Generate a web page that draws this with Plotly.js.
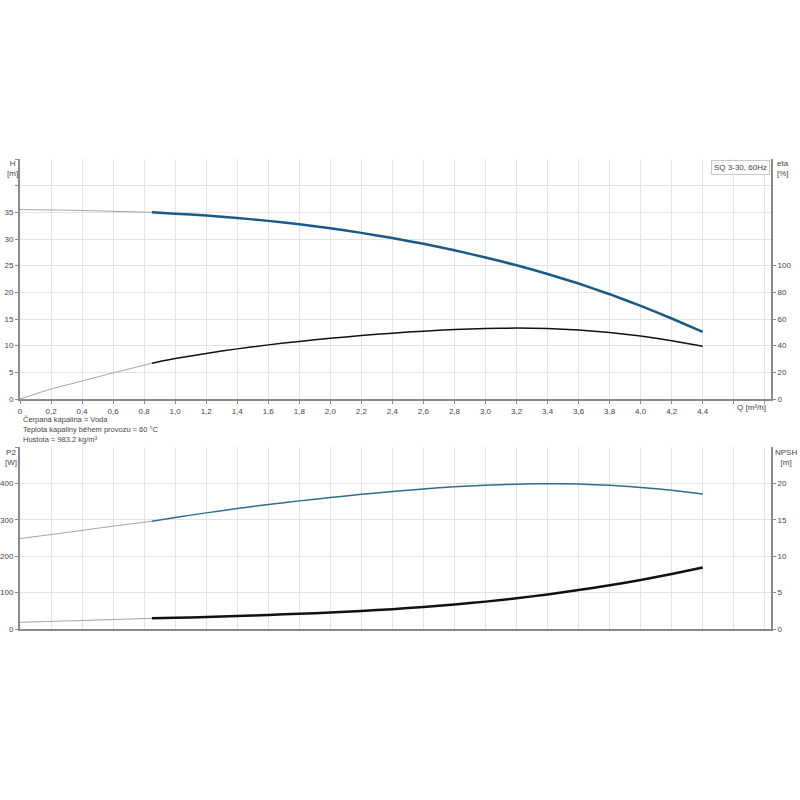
<!DOCTYPE html>
<html>
<head>
<meta charset="utf-8">
<script src="https://cdn.plot.ly/plotly-3.0.1.min.js"></script>
<style>html,body{margin:0;padding:0;background:#fff;}#chart{width:800px;height:800px;}</style>
</head>
<body>
<div id="chart"></div>
<script>
// Flow rate Q [m3/h]
const qLow = [0, 0.2, 0.4, 0.6, 0.85];
const qMain = [0.85, 1.0, 1.2, 1.4, 1.6, 1.8, 2.0, 2.2, 2.4, 2.6, 2.8, 3.0, 3.2, 3.4, 3.6, 3.8, 4.0, 4.2, 4.4];

// Head H [m]
const headLow = [35.5, 35.45, 35.35, 35.2, 35.0];
const headMain = [35.0, 34.75, 34.4, 33.95, 33.4, 32.75, 32.0, 31.15, 30.18, 29.09, 27.88, 26.54, 25.07, 23.45, 21.65, 19.65, 17.45, 15.1, 12.6];

// Efficiency eta [%]
const etaLow = [0, 7.5, 13.5, 19.6, 26.8];
const etaMain = [26.8, 30.3, 34.2, 37.6, 40.6, 43.2, 45.5, 47.6, 49.4, 50.9, 52.1, 52.9, 53.2, 52.9, 51.8, 49.9, 47.2, 43.7, 39.5];

// Power P2 [W]
const p2Low = [248.5, 259.5, 271, 282.5, 296];
const p2Main = [296, 306.5, 319, 331, 342, 352, 361.3, 370, 377.8, 384.8, 390.6, 395, 398, 399.2, 398.2, 394.8, 389, 381, 371];

// NPSH [m]
const npshLow = [0.92, 1.05, 1.17, 1.3, 1.46];
const npshMain = [1.46, 1.54, 1.65, 1.78, 1.93, 2.09, 2.27, 2.48, 2.73, 3.02, 3.36, 3.76, 4.22, 4.75, 5.35, 6.0, 6.72, 7.55, 8.45];

// Tick labels
const qTickVals = [0,0.2,0.4,0.6,0.8,1.0,1.2,1.4,1.6,1.8,2.0,2.2,2.4,2.6,2.8,3.0,3.2,3.4,3.6,3.8,4.0,4.2,4.4,4.6,4.8];
const qTickText = ['0','0,2','0,4','0,6','0,8','1,0','1,2','1,4','1,6','1,8','2,0','2,2','2,4','2,6','2,8','3,0','3,2','3,4','3,6','3,8','4,0','4,2','4,4','',''];
const hTickVals = [0,5,10,15,20,25,30,35,40,45];
const hTickText = ['0','5','10','15','20','25','30','35','',''];
const etaTickVals = [0,20,40,60,80,100];
const p2TickVals = [0,100,200,300,400,500];
const p2TickText = ['0','100','200','300','400',''];
const npshTickVals = [0,5,10,15,20];

const title = 'SQ 3-30, 60Hz';
const infoLines = ['Čerpaná kapalina = Voda', 'Teplota kapaliny během provozu = 60 °C', 'Hustota = 983.2 kg/m³'];

const thin = {color:'#a3a3a3', width:1};
const blueH = '#1b5a87';
const blueP = '#2f6d8c';
const sp = {shape:'spline', smoothing:0.4};

const traces = [
  {x:qLow, y:headLow, xaxis:'x', yaxis:'y', mode:'lines', line:Object.assign({}, thin, sp)},
  {x:qMain, y:headMain, xaxis:'x', yaxis:'y', mode:'lines', line:Object.assign({color:blueH, width:2.5}, sp)},
  {x:qLow, y:etaLow, xaxis:'x', yaxis:'y2', mode:'lines', line:Object.assign({}, thin, sp)},
  {x:qMain, y:etaMain, xaxis:'x', yaxis:'y2', mode:'lines', line:Object.assign({color:'#111', width:1.5}, sp)},
  {x:qLow, y:p2Low, xaxis:'x2', yaxis:'y3', mode:'lines', line:Object.assign({}, thin, sp)},
  {x:qMain, y:p2Main, xaxis:'x2', yaxis:'y3', mode:'lines', line:Object.assign({color:blueP, width:1.5}, sp)},
  {x:qLow, y:npshLow, xaxis:'x2', yaxis:'y4', mode:'lines', line:Object.assign({}, thin, sp)},
  {x:qMain, y:npshMain, xaxis:'x2', yaxis:'y4', mode:'lines', line:Object.assign({color:'#111', width:2.5}, sp)}
];

// pixel -> paper helpers
const L = 20, R = 771, T = 159, B = 629;
const px = v => (v - L) / (R - L);
const py = v => (B - v) / (B - T);

const tf = {family:'Liberation Sans, Arial, sans-serif', size:8, color:'#444'};
const inf = {family:'Liberation Sans, Arial, sans-serif', size:7.5, color:'#444'};
const gridC = '#e3e3e3';
const axC = '#8a8a8a';

const common = {showgrid:true, gridcolor:gridC, gridwidth:1, zeroline:false, showline:true, linecolor:axC, linewidth:2, ticks:'outside', ticklen:3, tickcolor:axC, tickfont:tf, fixedrange:true};

const layout = {
  width:800, height:800,
  margin:{l:L, r:800-R, t:T, b:800-B},
  paper_bgcolor:'#fff', plot_bgcolor:'#fff',
  showlegend:false,
  xaxis: Object.assign({}, common, {range:[0,4.84], tickmode:'array', tickvals:qTickVals, ticktext:qTickText, anchor:'y', domain:[0,1]}),
  xaxis2: Object.assign({}, common, {range:[0,4.84], tickmode:'array', tickvals:qTickVals, showticklabels:false, ticks:'', anchor:'y3', domain:[0,1]}),
  yaxis: Object.assign({}, common, {range:[0,45], tickmode:'array', tickvals:hTickVals, ticktext:hTickText, domain:[py(399),1], anchor:'x'}),
  yaxis2: Object.assign({}, common, {range:[0,180], tickmode:'array', tickvals:etaTickVals, overlaying:'y', side:'right', showgrid:false, anchor:'x'}),
  yaxis3: Object.assign({}, common, {range:[0,500], tickmode:'array', tickvals:p2TickVals, ticktext:p2TickText, domain:[0,py(447)], anchor:'x2'}),
  yaxis4: Object.assign({}, common, {range:[0,25], tickmode:'array', tickvals:npshTickVals, overlaying:'y3', side:'right', showgrid:false, anchor:'x2'}),
  annotations: [
    {text:'H<br>[m]', xref:'paper', yref:'paper', x:px(12), y:py(157), xanchor:'center', yanchor:'top', showarrow:false, font:tf, align:'center'},
    {text:'eta<br>[%]', xref:'paper', yref:'paper', x:px(775), y:py(157), xanchor:'left', yanchor:'top', showarrow:false, font:tf, align:'left'},
    {text:title, xref:'paper', yref:'paper', x:px(770), y:py(159.5), xanchor:'right', yanchor:'top', showarrow:false, font:tf, bordercolor:'#c8c8c8', borderwidth:1, borderpad:2, bgcolor:'#fff'},
    {text:'Q [m³/h]', xref:'paper', yref:'paper', x:px(768), y:py(407), xanchor:'right', yanchor:'middle', showarrow:false, font:tf},
    {text:infoLines[0], xref:'paper', yref:'paper', x:px(21), y:py(419), xanchor:'left', yanchor:'middle', showarrow:false, font:inf},
    {text:infoLines[1], xref:'paper', yref:'paper', x:px(21), y:py(429), xanchor:'left', yanchor:'middle', showarrow:false, font:inf},
    {text:infoLines[2], xref:'paper', yref:'paper', x:px(21), y:py(439), xanchor:'left', yanchor:'middle', showarrow:false, font:inf},
    {text:'P2<br>[W]', xref:'paper', yref:'paper', x:px(11), y:py(446), xanchor:'center', yanchor:'top', showarrow:false, font:tf, align:'center'},
    {text:'NPSH<br>[m]', xref:'paper', yref:'paper', x:px(786), y:py(446), xanchor:'center', yanchor:'top', showarrow:false, font:tf, align:'center'}
  ]
};

Plotly.newPlot('chart', traces, layout, {displayModeBar:false, staticPlot:true});
</script>
</body>
</html>
